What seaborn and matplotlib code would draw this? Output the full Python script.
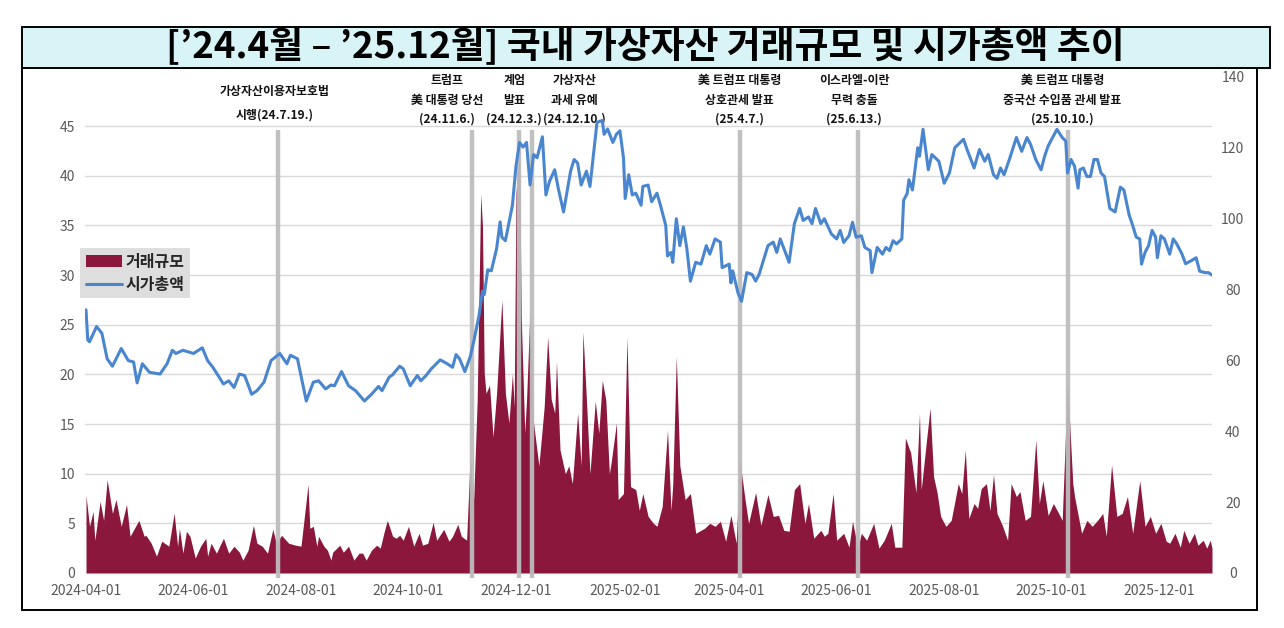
import matplotlib
matplotlib.use("Agg")
import matplotlib.pyplot as plt
import matplotlib.dates as mdates
from matplotlib.patches import Patch, Rectangle
from matplotlib.lines import Line2D
import numpy as np
import pandas as pd
import seaborn as sns

# ---------------- data ----------------
DAY0 = "2024-04-01"   # day offsets below are counted from this date

# 거래규모 (left axis)
vol_day = [0, 2, 4, 5, 8, 10, 12, 15, 17, 20,
           23, 25, 30, 33, 34, 37, 40, 43, 47, 50,
           52, 53, 55, 57, 59, 62, 65, 68, 69, 71,
           74, 78, 81, 84, 87, 89, 92, 95, 97, 100,
           103, 106, 108, 111, 115, 119, 122, 126, 127, 129,
           131, 132, 135, 137, 139, 140, 144, 146, 149, 152,
           155, 157, 159, 162, 165, 167, 169, 171, 174, 176,
           178, 180, 183, 186, 189, 191, 194, 197, 199, 203,
           206, 208, 211, 213, 216, 218, 220, 222, 224, 225,
           226, 227, 229, 231, 233, 236, 238, 240, 242, 243,
           244, 246, 247, 249, 250, 252, 254, 257, 260, 262,
           264, 266, 267, 269, 272, 274, 276, 279, 281, 282,
           284, 286, 289, 291, 293, 295, 297, 298, 301, 302,
           305, 307, 309, 312, 314, 316, 319, 322, 324, 327,
           330, 332, 333, 335, 337, 340, 343, 346, 349, 351,
           354, 357, 360, 363, 366, 369, 371, 374, 376, 380,
           383, 387, 390, 393, 396, 399, 402, 405, 408, 410,
           413, 417, 419, 421, 424, 426, 430, 433, 435, 438,
           440, 443, 447, 450, 453, 457, 459, 463, 465, 468,
           471, 473, 474, 477, 479, 481, 483, 485, 488, 491,
           495, 497, 499, 501, 504, 506, 508, 511, 513, 515,
           517, 520, 523, 525, 528, 530, 533, 536, 539, 541,
           543, 546, 549, 552, 554, 557, 560, 561, 565, 568,
           571, 574, 577, 579, 582, 585, 588, 591, 594, 598,
           601, 604, 607, 610, 613, 615, 618, 621, 623, 626,
           629, 631, 634, 636, 638, 639]
vol_val = [7.8, 4.7, 6.2, 3.3, 7.2, 5.3, 9.4, 6.0, 7.4, 4.7,
           6.9, 3.7, 5.3, 3.7, 3.8, 3.0, 1.7, 3.2, 2.7, 6.0,
           2.7, 4.5, 2.0, 4.2, 3.7, 1.5, 2.7, 3.5, 1.7, 3.0,
           2.0, 3.5, 2.0, 2.7, 2.1, 1.3, 2.3, 4.8, 3.0, 2.7,
           2.0, 4.4, 3.0, 3.8, 3.0, 2.8, 2.7, 8.9, 4.5, 4.7,
           2.7, 3.7, 2.7, 2.3, 1.3, 2.1, 2.8, 2.1, 2.7, 1.3,
           2.0, 2.0, 1.3, 2.3, 2.8, 2.5, 4.0, 5.3, 3.7, 3.5,
           3.8, 3.3, 4.7, 2.7, 4.0, 2.8, 3.0, 5.1, 3.3, 4.4,
           3.2, 3.7, 4.9, 3.7, 3.3, 11.7, 7.4, 17.4, 38.2, 34.9,
           20.1, 18.1, 18.9, 13.7, 18.1, 27.5, 18.1, 15.1, 20.1, 16.7,
           38.2, 43.0, 25.8, 14.1, 17.4, 26.7, 15.1, 10.8, 16.7, 23.8,
           17.5, 16.1, 21.3, 12.4, 10.0, 10.8, 9.0, 16.1, 10.8, 24.3,
           17.4, 10.0, 17.3, 14.1, 19.4, 17.4, 10.0, 11.1, 15.1, 7.4,
           8.0, 23.8, 8.7, 8.4, 6.3, 8.0, 5.7, 5.0, 4.7, 6.7,
           14.4, 6.3, 9.0, 21.8, 10.8, 7.4, 8.0, 4.0, 4.3, 4.5,
           5.0, 4.7, 5.2, 3.2, 5.8, 3.0, 11.4, 7.4, 5.0, 8.1,
           4.8, 7.9, 5.7, 5.8, 4.3, 4.2, 8.4, 9.0, 5.0, 7.0,
           3.5, 4.3, 3.7, 4.0, 8.0, 3.3, 4.0, 2.6, 5.2, 2.5,
           4.0, 3.3, 5.0, 2.5, 3.3, 5.0, 2.6, 2.6, 13.6, 12.1,
           8.1, 16.1, 8.4, 13.4, 16.6, 9.7, 8.1, 5.7, 4.7, 5.3,
           9.0, 8.0, 12.4, 5.5, 7.0, 6.5, 8.5, 9.0, 6.3, 9.9,
           6.0, 4.8, 3.3, 9.0, 7.7, 8.2, 5.3, 5.7, 13.4, 7.0,
           9.3, 5.8, 7.0, 6.0, 5.3, 19.3, 9.0, 7.7, 4.0, 5.3,
           4.7, 5.3, 6.0, 3.7, 10.9, 5.7, 6.0, 7.7, 4.0, 9.3,
           4.7, 5.7, 4.0, 5.0, 3.2, 3.0, 4.0, 2.6, 4.3, 3.0,
           4.0, 2.8, 3.3, 2.5, 3.3, 2.5]

# 시가총액 (right axis)
mcap_day = [0, 1, 2, 6, 9, 12, 15, 20, 24, 27,
            29, 32, 36, 42, 46, 49, 51, 55, 61, 66,
            69, 72, 78, 81, 84, 87, 90, 94, 97, 101,
            105, 110, 114, 116, 120, 122, 125, 129, 132, 136,
            139, 141, 145, 149, 153, 158, 162, 166, 168, 172,
            174, 178, 180, 184, 188, 190, 193, 196, 201, 205,
            208, 210, 212, 215, 218, 220, 223, 225, 226, 228,
            230, 233, 235, 236, 238, 242, 244, 246, 248, 250,
            252, 254, 256, 259, 261, 263, 266, 268, 271, 275,
            277, 279, 281, 284, 286, 290, 293, 294, 296, 299,
            301, 303, 305, 306, 308, 310, 312, 315, 316, 319,
            321, 324, 326, 329, 330, 332, 333, 335, 337, 339,
            341, 343, 346, 349, 352, 354, 357, 360, 361, 365,
            366, 367, 370, 372, 375, 378, 380, 382, 387, 390,
            392, 394, 399, 402, 405, 407, 410, 412, 414, 417,
            419, 423, 426, 428, 430, 433, 435, 437, 440, 442,
            445, 446, 449, 452, 454, 456, 458, 460, 463, 464,
            466, 467, 469, 472, 473, 475, 478, 480, 484, 487,
            490, 493, 498, 500, 504, 507, 510, 512, 515, 517,
            519, 521, 524, 528, 531, 534, 536, 539, 542, 544,
            546, 551, 554, 556, 557, 559, 561, 563, 564, 566,
            568, 570, 572, 574, 576, 578, 581, 584, 587, 589,
            592, 594, 596, 598, 599, 601, 603, 605, 607, 608,
            610, 612, 615, 617, 619, 622, 624, 627, 630, 632,
            635, 637, 639]
mcap_val = [74.2, 65.7, 65.2, 69.5, 67.6, 60.4, 58.3, 63.3, 59.9, 59.5,
            53.6, 59.0, 56.6, 56.1, 59.0, 62.8, 61.9, 62.8, 61.9, 63.5,
            59.9, 58.0, 53.3, 54.2, 52.3, 56.1, 55.7, 50.4, 51.4, 53.8,
            59.9, 61.9, 59.0, 61.4, 60.4, 55.7, 48.5, 53.8, 54.2, 51.9,
            53.0, 52.8, 56.8, 52.8, 51.4, 48.5, 50.4, 52.6, 51.4, 55.2,
            55.9, 58.3, 57.6, 52.8, 55.7, 54.2, 55.7, 57.6, 60.1, 59.0,
            58.0, 61.6, 60.4, 56.8, 60.9, 65.2, 72.5, 79.5, 78.5, 85.5,
            85.2, 91.4, 99.0, 94.7, 93.7, 103.7, 114.7, 121.4, 120.1, 121.4,
            109.4, 118.0, 117.1, 123.0, 106.6, 110.4, 113.7, 108.5, 101.8, 113.3,
            116.6, 115.6, 109.4, 113.3, 109.0, 127.1, 127.6, 123.7, 125.2, 121.4,
            123.7, 124.7, 117.1, 105.6, 112.3, 106.6, 107.1, 103.7, 109.0, 109.4,
            104.7, 107.1, 103.7, 98.0, 89.4, 90.4, 87.6, 99.9, 92.3, 97.6,
            91.4, 82.3, 87.6, 87.1, 92.3, 89.9, 94.2, 93.3, 86.1, 87.1,
            81.8, 85.2, 79.0, 76.6, 84.7, 84.2, 82.3, 84.2, 92.3, 93.3,
            90.4, 94.2, 87.6, 98.5, 102.8, 99.4, 100.4, 98.5, 102.8, 98.5,
            99.9, 95.6, 94.2, 96.6, 93.2, 95.1, 98.9, 94.7, 95.1, 91.8,
            90.9, 84.7, 91.8, 89.9, 91.8, 90.9, 93.7, 92.8, 94.2, 105.1,
            107.0, 110.9, 108.0, 119.9, 117.5, 125.1, 113.7, 118.0, 116.1, 109.9,
            112.8, 119.9, 122.3, 119.4, 114.2, 119.4, 116.1, 118.0, 112.3, 111.3,
            114.2, 112.3, 116.6, 122.8, 118.9, 122.8, 120.9, 116.6, 113.7, 117.5,
            120.4, 125.1, 122.8, 121.8, 112.8, 116.6, 114.7, 108.5, 113.7, 114.2,
            111.8, 111.8, 116.6, 116.6, 112.8, 111.8, 102.8, 101.8, 108.8, 108.0,
            100.9, 98.0, 94.7, 94.2, 87.1, 90.4, 92.3, 96.6, 94.7, 88.9,
            95.1, 94.2, 89.9, 94.2, 92.8, 89.9, 87.2, 88.0, 88.9, 85.1,
            84.7, 84.7, 84.0]

event_date = ["2024-07-19", "2024-11-06", "2024-12-03", "2024-12-10",
              "2025-04-07", "2025-06-13", "2025-10-10"]
event_label = ["가상자산이용자보호법\n시행(24.7.19.)",
               "트럼프\n美 대통령 당선\n(24.11.6.)",
               "계엄\n발표\n(24.12.3.)",
               "가상자산\n과세 유예\n(24.12.10.)",
               "美 트럼프 대통령\n상호관세 발표\n(25.4.7.)",
               "이스라엘-이란\n무력 충돌\n(25.6.13.)",
               "美 트럼프 대통령\n중국산 수입품 관세 발표\n(25.10.10.)"]

x_ticks = ["2024-04-01", "2024-06-01", "2024-08-01", "2024-10-01", "2024-12-01",
           "2025-02-01", "2025-04-01", "2025-06-01", "2025-08-01", "2025-10-01",
           "2025-12-01"]
left_ticks = [0, 5, 10, 15, 20, 25, 30, 35, 40, 45]
right_ticks = [0, 20, 40, 60, 80, 100, 120, 140]

title = "[’24.4월 – ’25.12월] 국내 가상자산 거래규모 및 시가총액 추이"
series_names = ["거래규모", "시가총액"]

# ---------------- style ----------------
MAROON = "#8B173D"
BLUE = "#4A86CF"
GRID = "#d9d9d9"
TICK = "#595959"

sns.set_theme(style="white")
plt.rcParams["font.family"] = ["Noto Sans CJK KR", "DejaVu Sans"]
plt.rcParams["axes.unicode_minus"] = False

W, H = 1284, 628
fig = plt.figure(figsize=(W / 100, H / 100), dpi=100)
fig.patch.set_facecolor("white")

def fx(px):
    return px / W

def fy(py):
    return 1 - py / H

# chart frame and title banner
fig.patches.append(Rectangle((fx(22), fy(610)), fx(1257) - fx(22), fy(68) - fy(610),
                             transform=fig.transFigure, facecolor="none",
                             edgecolor="black", lw=1.4, zorder=-1))
fig.patches.append(Rectangle((fx(22), fy(68)), fx(1270) - fx(22), fy(27) - fy(68),
                             transform=fig.transFigure, facecolor="#d9f4f6",
                             edgecolor="black", lw=1.4, zorder=1))
fig.text(fx(645), fy(47), title, ha="center", va="center", fontsize=26.5,
         fontweight="bold", color="black")

ax_l, ax_r, ax_t, ax_b = 85, 1212, 76.5, 573
ax = fig.add_axes([fx(ax_l), fy(ax_b), fx(ax_r) - fx(ax_l), fy(ax_t) - fy(ax_b)])
ax.patch.set_alpha(0)

start = pd.Timestamp(DAY0)
vol_dates = start + pd.to_timedelta(vol_day, unit="D")
mcap_dates = start + pd.to_timedelta(mcap_day, unit="D")

# area (left axis)
ax.fill_between(vol_dates, 0, vol_val, color=MAROON, lw=0, zorder=2)
ax.set_ylim(0, 50)
ax.set_yticks(left_ticks)
x0 = mdates.date2num(start) - 0.57
x1 = mdates.date2num(start) + 639.0
ax.set_xlim(x0, x1)
ax.yaxis.grid(True, color=GRID, lw=1.0)
ax.xaxis.grid(False)
ax.set_axisbelow(True)
for s in ax.spines.values():
    s.set_visible(False)
ax.set_xticks(mdates.date2num(pd.to_datetime(x_ticks)))
ax.set_xticklabels(x_ticks)
ax.tick_params(axis="x", length=0, pad=8, labelsize=10, colors=TICK)
ax.tick_params(axis="y", length=0, pad=7, labelsize=10, colors=TICK)

# event lines and annotations
ev_dates = pd.to_datetime(event_date)
text_shift = [-2, -14, -3, 24, 0, -2, -3]
rows = {3: [49.6, 47.6, 45.7], 2: [48.5, 46.1]}
for d, lab, sh in zip(ev_dates, event_label, text_shift):
    xd = mdates.date2num(d)
    ax.plot([xd, xd], [-0.5, 44.6], color="#bdbdbd", lw=3.2, alpha=0.95,
            solid_capstyle="butt", zorder=3, clip_on=False)
    lines = lab.split("\n")
    for ln, yy in zip(lines, rows[len(lines)]):
        ax.text(xd + sh, yy, ln, ha="center", va="center", fontsize=8.6,
                fontweight="bold", color="#111111", clip_on=False, zorder=6)

# line (right axis)
ax2 = ax.twinx()
sns.lineplot(x=mcap_dates, y=mcap_val, ax=ax2, color=BLUE, lw=2.2, zorder=4)
ax2.set_ylim(0, 140)
ax2.set_yticks(right_ticks)
ax2.set_xlim(x0, x1)
ax2.grid(False)
for s in ax2.spines.values():
    s.set_visible(False)
ax2.tick_params(axis="y", length=0, pad=15, labelsize=10, colors=TICK)
for t in ax2.get_yticklabels():
    t.set_horizontalalignment("center")
ax2.set_ylabel("")

# legend
handles = [Patch(facecolor=MAROON, edgecolor="none", label=series_names[0]),
           Line2D([0], [0], color=BLUE, lw=2.2, label=series_names[1])]
leg = ax.legend(handles=handles, loc="upper left",
                bbox_to_anchor=((80 - ax_l) / (ax_r - ax_l), (ax_b - 248) / (ax_b - ax_t)),
                frameon=True, fancybox=False, facecolor="#dedede", edgecolor="none",
                framealpha=1, handlelength=2.3, handleheight=0.8, handletextpad=0.2,
                labelspacing=0.45, borderpad=0.35, borderaxespad=0,
                prop={"size": 11.5, "weight": "bold"})
leg.set_zorder(10)

fig.savefig("out.png", dpi=100, facecolor="white")
